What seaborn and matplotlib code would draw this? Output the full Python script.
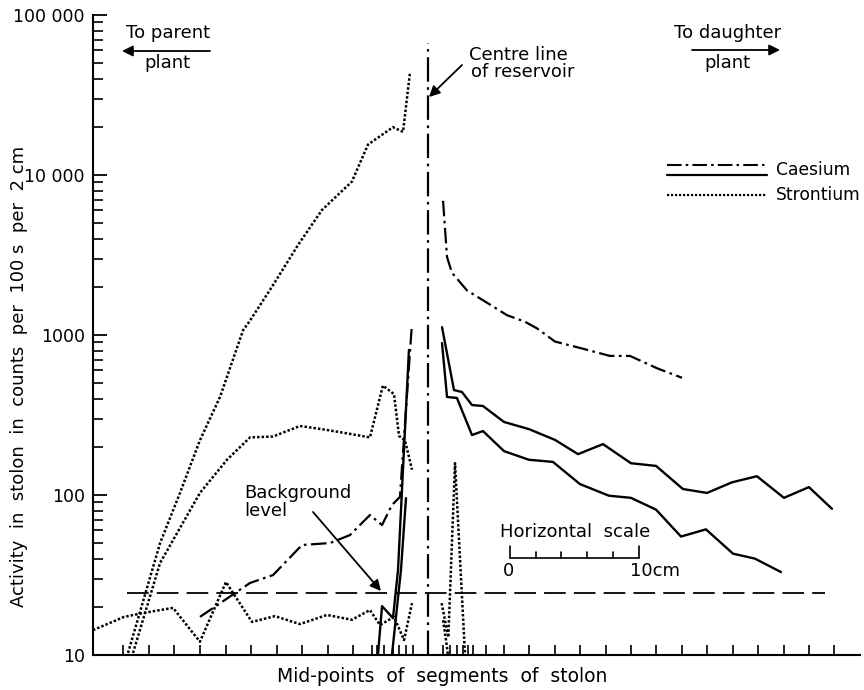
import numpy as np
import pandas as pd
import matplotlib
matplotlib.use("Agg")
import matplotlib.pyplot as plt
import seaborn as sns

# ---------------- data (x in cm from the centre line of the reservoir) ----------------
sr_a_x = [-23.31, -20.82, -19.27, -17.72, -16.16, -14.37, -13.83, -12.04, -10.10, -8.24, -5.91, -4.66, -2.72, -1.94, -1.40]
sr_a_y = [10.3, 50, 103, 220, 410, 1070, 1230, 2050, 3650, 6040, 9100, 15500, 19900, 18600, 43600]

sr_b_x = [-22.92, -20.82, -17.72, -15.62, -13.83, -12.04, -9.95, -7.85, -6.06, -4.51, -3.50, -2.64, -2.25, -1.79, -1.24]
sr_b_y = [10.3, 37.6, 103, 166, 229, 232, 270, 255, 241, 229, 483, 427, 234, 220, 144]

sr_c_x = [-26.03, -23.62, -22.14, -19.81, -17.72, -15.70, -13.68, -11.89, -9.95, -7.85, -5.91, -4.51, -3.73, -2.64, -1.86, -1.24]
sr_c_y = [14.3, 17.3, 18.3, 19.7, 12.1, 28.6, 16.1, 17.5, 15.6, 17.8, 16.6, 19.1, 15.4, 17.3, 12.4, 21.1]

sr_d_x = [1.06, 1.58, 2.10, 2.87]
sr_d_y = [21.1, 12.9, 158, 10.3]

sr_e_x = [1.17, 1.40, 1.55]
sr_e_y = [16.5, 12.4, 10.0]

cs_dd_left_x = [-17.72, -13.83, -12.04, -9.79, -7.61, -6.06, -4.51, -3.57, -2.80, -2.18, -1.27]
cs_dd_left_y = [17.3, 28.2, 31.6, 48.7, 50.1, 56.2, 75, 64.9, 86.6, 97.2, 1107]

cs_s1_left_x = [-3.89, -3.57, -2.72, -2.33, -1.48]
cs_s1_left_y = [10, 20.2, 17.0, 33.9, 806]

cs_s2_left_x = [-2.80, -2.10, -1.71]
cs_s2_left_y = [10, 33.9, 95.6]

cs_dd_right_x = [1.17, 1.48, 1.86, 3.03, 4.43, 6.14, 7.54, 8.47, 9.87, 11.81, 14.14, 15.70, 17.79, 19.74]
cs_dd_right_y = [6900, 3070, 2450, 1900, 1620, 1330, 1210, 1100, 910, 830, 740, 740, 620, 540]

cs_s1_right_x = [1.09, 2.02, 2.64, 3.42, 4.27, 5.91, 7.85, 9.87, 11.66, 13.60, 15.77, 17.72, 19.81, 21.68, 23.62, 25.56, 27.66, 29.60, 31.39]
cs_s1_right_y = [1120, 453, 440, 365, 360, 286, 258, 221, 180, 208, 158, 152, 109, 103, 120, 131, 96, 112, 82]

cs_s2_right_x = [1.09, 1.48, 2.25, 3.42, 4.27, 5.91, 7.85, 9.71, 11.81, 14.06, 15.77, 17.72, 19.66, 21.60, 23.70, 25.41, 27.43]
cs_s2_right_y = [890, 410, 404, 237, 251, 188, 166, 161, 117, 99, 96, 81, 55, 61, 43, 40, 33]

background_x = [-23.39, 30.85]
background_y = [24.4, 24.4]

centre_x = [0.0, 0.0]
centre_y = [10, 66800]

segment_ticks = [-23.70, -21.68, -19.74, -17.72, -15.70, -13.75, -11.73, -9.79, -7.77, -5.83,
                 -4.35, -3.96, -3.42, -2.72, -2.25, -1.71, -1.17,
                 1.17, 1.71, 2.25, 2.72, 3.11, 3.50, 4.51, 5.91, 7.85, 9.87, 11.81, 13.83,
                 15.77, 17.72, 19.74, 21.68, 23.70, 25.64, 27.66, 29.60, 31.55]

y_ticks = [10, 100, 1000, 10000, 100000]
y_tick_labels = ["10", "100", "1000", "10 000", "100 000"]

scale_x0, scale_len, scale_y = 6.37, 10.0, 40.6

# ---------------- styling ----------------
sns.set_style("ticks")
plt.rcParams["font.family"] = ["DejaVu Sans"]
plt.rcParams["axes.linewidth"] = 1.5
plt.rcParams["text.color"] = "black"
plt.rcParams["xtick.color"] = "black"
plt.rcParams["ytick.color"] = "black"
plt.rcParams["axes.edgecolor"] = "black"

W, H = 864, 690
fig = plt.figure(figsize=(W / 100, H / 100), dpi=100)
ax = fig.add_axes([93 / W, 35 / H, 767 / W, 640 / H])
ax.set_yscale("log")
ax.set_xlim(-26.03, 33.57)
ax.set_ylim(10, 100000)

def P(px, py):
    return (px / W, 1 - py / H)

DOT = (0, (1.0, 0.8))
DASHDOT = (0, (7, 2, 1.2, 2))
BG = (0, (12, 4.5))
CENTRE = (0, (11, 2.5, 1.2, 2.5))

def draw(x, y, ls, lw):
    df = pd.DataFrame({"x": x, "y": y})
    sns.lineplot(data=df, x="x", y="y", ax=ax, color="black", linestyle=ls, lw=lw,
                 estimator=None, sort=False, legend=False, dash_capstyle="butt")

for x, y in [(sr_a_x, sr_a_y), (sr_b_x, sr_b_y), (sr_c_x, sr_c_y), (sr_d_x, sr_d_y), (sr_e_x, sr_e_y)]:
    draw(x, y, DOT, 1.8)
for x, y in [(cs_dd_left_x, cs_dd_left_y), (cs_dd_right_x, cs_dd_right_y)]:
    draw(x, y, DASHDOT, 1.6)
for x, y in [(cs_s1_left_x, cs_s1_left_y), (cs_s2_left_x, cs_s2_left_y),
             (cs_s1_right_x, cs_s1_right_y), (cs_s2_right_x, cs_s2_right_y)]:
    draw(x, y, "-", 1.7)
draw(background_x, background_y, BG, 1.3)
draw(centre_x, centre_y, CENTRE, 1.6)

# axes / ticks
sns.despine(ax=ax)
ax.set_yticks(y_ticks)
ax.set_yticklabels(y_tick_labels, fontsize=12.5, color="black")
ax.yaxis.set_minor_locator(matplotlib.ticker.LogLocator(base=10, subs=np.arange(2, 10)))
ax.yaxis.set_minor_formatter(matplotlib.ticker.NullFormatter())
ax.tick_params(axis="y", which="major", direction="in", length=10, width=1.3, pad=6)
ax.tick_params(axis="y", which="minor", direction="in", length=7, width=1.2)
ax.set_xticks(segment_ticks)
ax.set_xticklabels([])
ax.tick_params(axis="x", which="major", direction="in", length=7, width=1.2)
ax.set_xlabel("")
ax.set_ylabel("")

fs = 13
fig.text(*P(19, 376), "Activity  in  stolon  in  counts  per  100 s  per  2 cm", rotation=90,
         ha="center", va="center", fontsize=13)
fig.text(*P(442, 677), "Mid-points  of  segments  of  stolon", ha="center", va="center", fontsize=13.5)

arrow = dict(arrowstyle="-|>", color="black", lw=1.3, mutation_scale=16, shrinkA=0, shrinkB=0)
fig.text(*P(168, 33), "To parent", ha="center", va="center", fontsize=fs)
fig.text(*P(167, 63), "plant", ha="center", va="center", fontsize=fs)
ax.annotate("", xy=P(122, 51), xytext=P(210, 51), xycoords="figure fraction",
            textcoords="figure fraction", arrowprops=arrow)
fig.text(*P(728, 33), "To daughter", ha="center", va="center", fontsize=fs)
fig.text(*P(727, 63), "plant", ha="center", va="center", fontsize=fs)
ax.annotate("", xy=P(780, 50), xytext=P(692, 50), xycoords="figure fraction",
            textcoords="figure fraction", arrowprops=arrow)

fig.text(*P(469, 55), "Centre line", ha="left", va="center", fontsize=fs)
fig.text(*P(471, 72), "of reservoir", ha="left", va="center", fontsize=fs)
ax.annotate("", xy=P(429, 97), xytext=P(462, 65), xycoords="figure fraction",
            textcoords="figure fraction", arrowprops=arrow)

fig.text(*P(244, 493), "Background", ha="left", va="center", fontsize=fs)
fig.text(*P(244, 511), "level", ha="left", va="center", fontsize=fs)
ax.annotate("", xy=P(381, 591), xytext=P(313, 512), xycoords="figure fraction",
            textcoords="figure fraction", arrowprops=arrow)

# legend drawn by hand
lx0, lx1 = (667 - 93) / 767, (767 - 93) / 767
ax.plot([lx0, lx1], [(655 - 165) / 640] * 2, transform=ax.transAxes, color="black", lw=1.5, linestyle=DASHDOT)
ax.plot([lx0, lx1], [(655 - 175) / 640] * 2, transform=ax.transAxes, color="black", lw=1.6)
ax.plot([lx0, lx1], [(655 - 195) / 640] * 2, transform=ax.transAxes, color="black", lw=1.6, linestyle=DOT)
fig.text(*P(776, 170), "Caesium", ha="left", va="center", fontsize=12.3)
fig.text(*P(776, 195), "Strontium", ha="left", va="center", fontsize=12.3)

# horizontal scale bar (in cm, data units)
ax.plot([scale_x0, scale_x0 + scale_len], [scale_y, scale_y], color="black", lw=1.2)
for t in np.arange(0, scale_len + 0.1, 2):
    top = scale_y * (1.19 if t in (0, scale_len) else 1.09)
    ax.plot([scale_x0 + t, scale_x0 + t], [scale_y, top], color="black", lw=1.2)
fig.text(*P(500, 532), "Horizontal  scale", ha="left", va="center", fontsize=fs)
fig.text(*P(509, 571), "0", ha="center", va="center", fontsize=fs)
fig.text(*P(630, 571), "10cm", ha="left", va="center", fontsize=fs)

fig.savefig("out.png", dpi=100)
